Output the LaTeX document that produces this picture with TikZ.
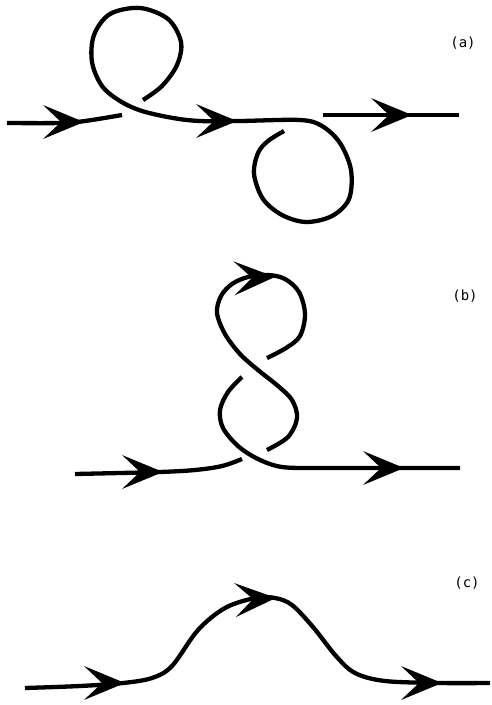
\documentclass[tikz,border=0pt]{standalone}
\usepackage{fontspec}
\newfontfamily\labfont{DejaVu Sans Mono}
\begin{document}
\begin{tikzpicture}[x=1pt,y=-1pt,
  strand/.style={line width=4.3pt,line join=round},
  head/.pic={\fill (2,0) -- (-39,-17) -- (-21,0) -- (-39,17) -- cycle;},
  lab/.style={font=\labfont\fontsize{14}{16}\selectfont,inner sep=0pt}]
\useasboundingbox (0,0) rectangle (491,705);
% ---------- (a)
\draw[strand] plot[smooth,tension=0.6] coordinates {(7,123) (60,123) (85,121) (122,115)};
\draw[strand] plot[smooth,tension=0.55] coordinates {(143,100) (162,86) (177,65) (181,42) (168,19) (140,8) (110,14) (94,35) (92,62) (102,86) (120,101) (142,111) (173,118) (200,121) (240,121) (300,120) (322,126) (340,143) (351,170) (349,199) (332,216) (306,222) (282,215) (263,199) (254,174) (258,153) (268,141) (284,131)};
\draw[strand] (323,115) -- (459,115);
\pic at (82,122) {head};
\pic at (235,121) {head};
\pic at (410,115) {head};
\node[lab] (la) at (463,43) {(a)};
% ---------- (b)
\draw[strand] plot[smooth,tension=0.6] coordinates {(75,474) (120,473) (160,472) (195,470) (222,466) (242,459)};
\draw[strand] plot[smooth,tension=0.55] coordinates {(267,450) (288,437) (297,418) (292,400) (278,386) (258,370) (240,354) (225,334) (217,313) (221,296) (232,284) (248,277) (268,275) (285,279) (299,292) (305,314) (300,336) (286,348) (267,358)};
\draw[strand] plot[smooth,tension=0.55] coordinates {(242,377) (228,392) (220,410) (223,428) (238,446) (258,459) (282,467) (320,468) (380,468) (460,468)};
\pic at (161,472) {head};
\pic[rotate=2] at (273,277) {head};
\pic at (402,468) {head};
\node[lab] (lb) at (465,296) {(b)};
% ---------- (c)
\draw[strand] plot[smooth,tension=0.55] coordinates {(25,688) (80,686) (123,683) (152,678) (172,666) (198,630) (225,608) (255,598) (275,598) (292,605) (313,627) (336,656) (355,673) (385,681) (440,683) (490,683)};
\pic at (123,683) {head};
\pic[rotate=3] at (274,598) {head};
\pic at (440,683) {head};
\node[lab] (lc) at (467,583) {(c)};
\end{tikzpicture}
\end{document}
